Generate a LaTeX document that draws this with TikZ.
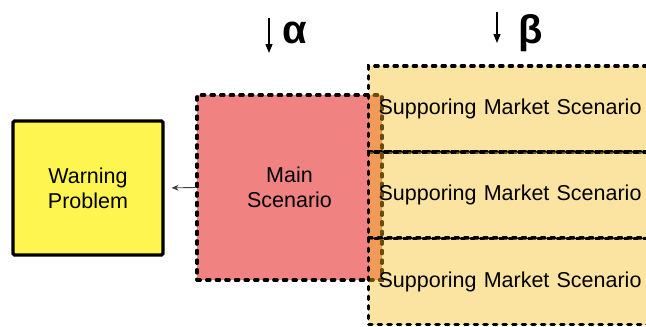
\documentclass[tikz,border=0pt]{standalone}
\usepackage{fontspec}
\setmainfont{Liberation Sans}
\usetikzlibrary{arrows.meta}
\definecolor{warnyellow}{RGB}{255,245,80}
\definecolor{mainpink}{RGB}{240,130,130}
\definecolor{supgold}{RGB}{245,188,30}
\tikzset{
  dashborder/.style={draw=black, line width=3.2pt, line cap=round,
    dash pattern=on 3.4pt off 6.2pt},
  boxtext/.style={font=\fontsize{21.5}{25}\selectfont},
  warnbox/.style={draw=black, line width=3.2pt, rounded corners=1.5pt,
    fill=warnyellow, minimum width=150pt, minimum height=134pt,
    align=center, boxtext, inner sep=0pt},
  mainbox/.style={dashborder, fill=mainpink, minimum width=185pt,
    minimum height=185pt, align=center, boxtext, inner sep=0pt},
  supbox/.style={dashborder, fill=supgold, fill opacity=0.42, text opacity=1,
    minimum height=86pt, text width=273pt, inner xsep=10pt, inner ysep=0pt,
    align=left, boxtext, anchor=west},
  greek/.style={font=\fontsize{40}{40}\selectfont\bfseries, inner sep=0pt, anchor=base},
  downarrow/.style={line width=1.3pt, -{Triangle[length=9pt,width=7pt]}}
}
\begin{document}
\begin{tikzpicture}[x=1pt,y=-1pt]
  \useasboundingbox (0,0) rectangle (646,327);
  \clip (0,0) rectangle (646,327);

  % problem and main scenario
  \node[warnbox] (warn) at (88,188) {Warning\\Problem};
  \node[mainbox] (main) at (289.5,187.5) {Main\\Scenario};
  \draw[black!75, line width=0.9pt, -{Stealth[length=7pt,width=6pt]},
        shorten >=7pt] (main.west) -- (warn.east);

  % stacked supporting scenarios
  \node[supbox] (sup1) at (367,109) {Supporing Market Scenario};
  \node[supbox] (sup2) at (367,195) {Supporing Market Scenario};
  \node[supbox] (sup3) at (367,281.5) {Supporing Market Scenario};

  % weight labels
  \node[greek] (alpha) at (295,43) {α};
  \node[greek] (beta) at (530.5,43) {β};
  \coordinate (atop) at (269,18);
  \coordinate (abot) at (269,53);
  \coordinate (btop) at (497,12);
  \coordinate (bbot) at (497,43);
  \draw[downarrow] (atop) -- (abot);
  \draw[downarrow] (btop) -- (bbot);
\end{tikzpicture}
\end{document}
